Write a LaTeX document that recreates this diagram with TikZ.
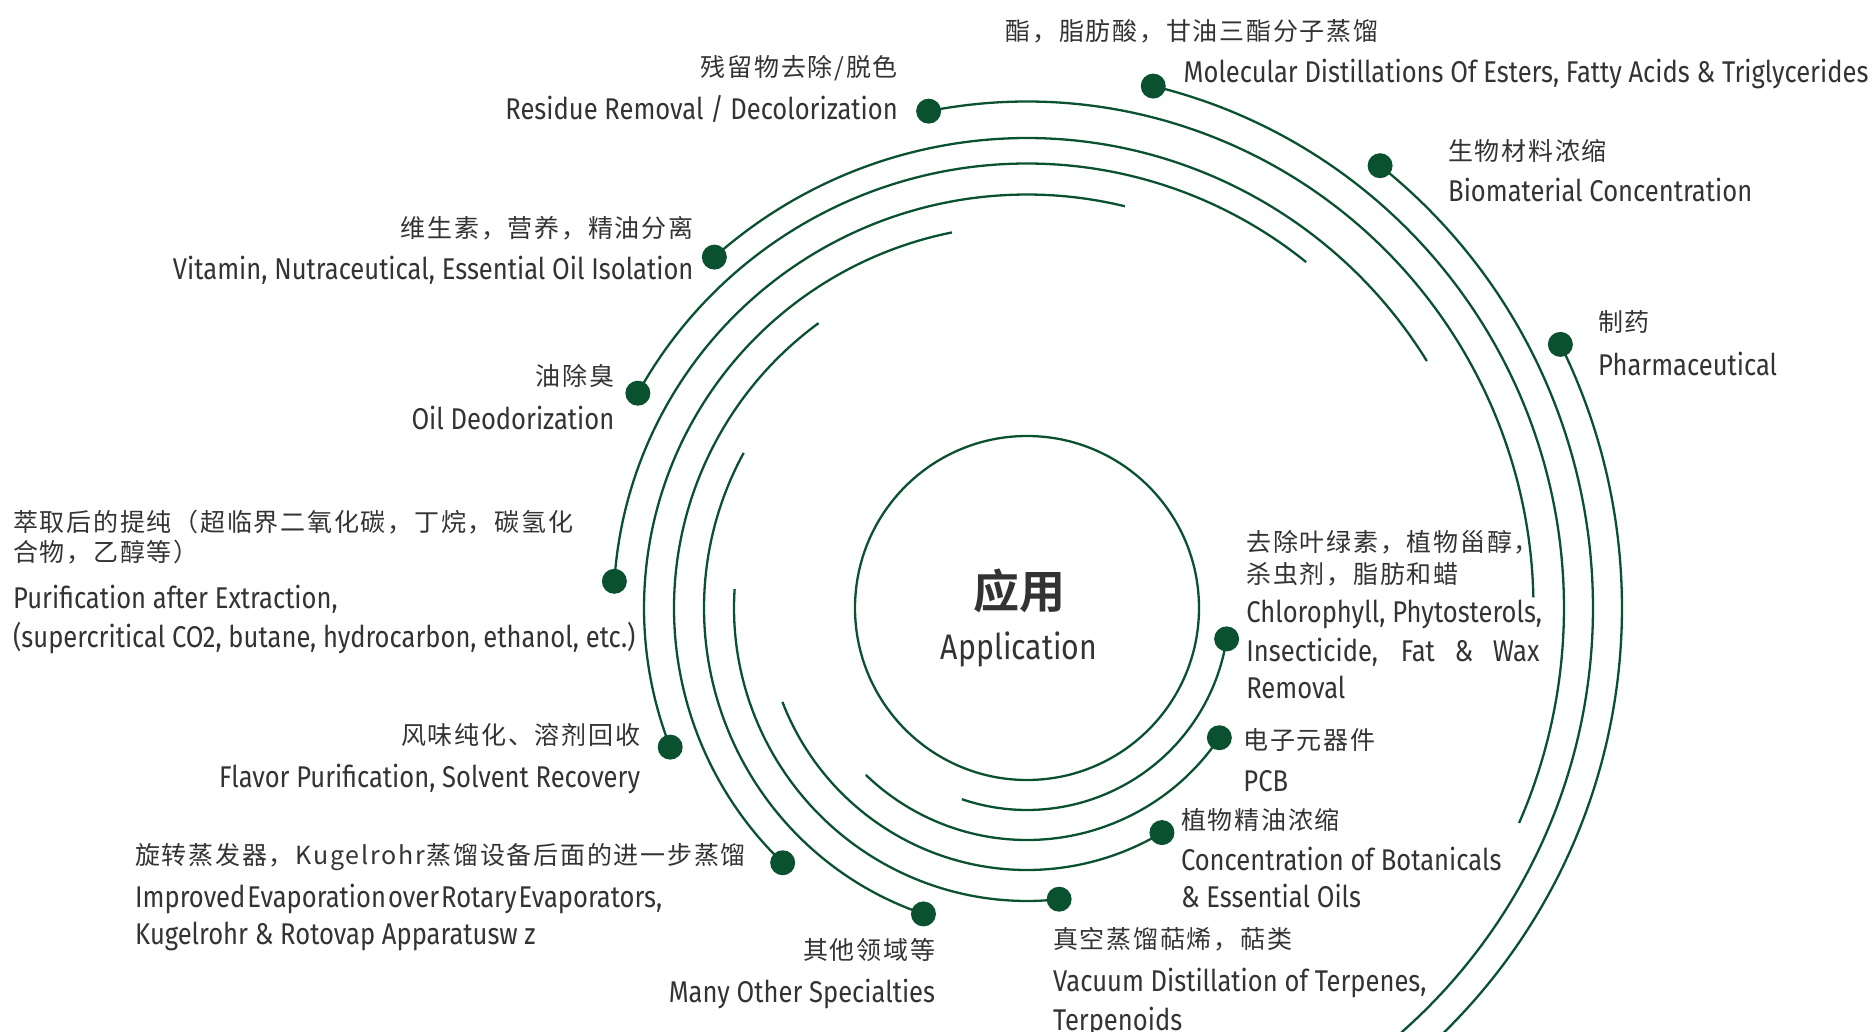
\documentclass[tikz,border=0pt]{standalone}
\usepackage{fontspec}
\setmainfont{Fira Sans}[FakeStretch=0.852]
\newfontfamily\cjk{Noto Sans CJK SC}[LetterSpace=7]
\newfontfamily\cjkb{Noto Sans CJK SC Bold}
\definecolor{grn}{HTML}{0A5130}
\definecolor{txt}{HTML}{333333}
\begin{document}
\begin{tikzpicture}[x=1pt,y=-1pt,
  arcline/.style={draw=grn, line width=2.3pt},
  dot/.style={circle, fill=grn, minimum size=25pt, inner sep=0pt},
  en/.style={font=\fontsize{30}{36}\selectfont, text=txt, inner sep=0pt, text height=21pt, text depth=0pt},
  zh/.style={font=\cjk\fontsize{25}{30}\selectfont, text=txt, inner sep=0pt, text height=20pt, text depth=1.5pt},
]
\useasboundingbox (0,0) rectangle (1872,1032);
\clip (0,0) rectangle (1872,1032);
\coordinate (c) at (1027,608);
\node[draw=grn, line width=2.3pt, circle, minimum size=344pt, inner sep=0pt] (core) at (c) {};
\node[font=\cjkb\fontsize{46}{50}\selectfont, text=txt, anchor=center] (hz) at (1019,591) {应用};
\node[font=\fontsize{35.5}{40}\selectfont, text=txt, anchor=base] (he) at (1019,659.5) {Application};

\foreach \n/\t/\r in {1/8.8/202, 2/34/232, 3/59/262, 4/83.7/293, 5/108.7/323,
  6/133.8/353, 7/158.7/383, 8/183.7/413.5, 9/208.9/444.5, 10/228.3/470,
  11/258.8/506.5, 12/283.6/537, 13/308.6/566, 14/333.7/595}{
  \node[dot] (d\n) at ([shift={(\t:\r)}]c) {};
  \draw[arcline] (d\n.center) arc[start angle=-\t, end angle=-\t-100, radius=\r pt];
}

% 14 Pharmaceutical
\node[zh, anchor=west] (z14) at (1598,322.5) {制药};
\node[en, anchor=west] (e14) at (1598,365) {Pharmaceutical};
% 13 Biomaterial
\node[zh, anchor=west] (z13) at (1448,150.8) {生物材料浓缩};
\node[en, anchor=west] (e13) at (1448,190.8) {Biomaterial Concentration};
% 12 Molecular
\node[zh, anchor=west] (z12) at (1005.5,30.8) {酯，脂肪酸，甘油三酯分子蒸馏};
\node[en, anchor=west] (e12) at (1183.5,71.7) {Molecular Distillations Of Esters, Fatty Acids \& Triglycerides};
% 11 Residue
\node[zh, anchor=east] (z11) at (898,67.5) {残留物去除/脱色};
\node[en, anchor=east] (e11) at (898,108.8) {Residue Removal / Decolorization};
% 10 Vitamin
\node[zh, anchor=east] (z10) at (693.6,228) {维生素，营养，精油分离};
\node[en, anchor=east] (e10) at (693.6,269.2) {Vitamin, Nutraceutical, Essential Oil Isolation};
% 9 Oil
\node[zh, anchor=east] (z9) at (614.5,376.7) {油除臭};
\node[en, anchor=east] (e9) at (614.5,419.2) {Oil Deodorization};
% 8 Purification
\node[zh, anchor=west] (z8) at (13,522) {萃取后的提纯（超临界二氧化碳，丁烷，碳氢化};
\node[zh, anchor=west] (z8b) at (13,552.6) {合物，乙醇等）};
\node[en, anchor=west] (e8) at (13,597.5) {Purification after Extraction,};
\node[en, anchor=west] (e8b) at (13,636.5) {(supercritical CO2, butane, hydrocarbon, ethanol, etc.)};
% 7 Flavor
\node[zh, anchor=east] (z7) at (640.3,735) {风味纯化、溶剂回收};
\node[en, anchor=east] (e7) at (640.3,777) {Flavor Purification, Solvent Recovery};
% 6 Rotary
\node[zh, anchor=west] (z6) at (135,855.5) {旋转蒸发器，Kugelrohr蒸馏设备后面的进一步蒸馏};
\node[en, anchor=west] (e6) at (135,897) {\spaceskip=1pt plus 30pt\makebox[527pt][s]{Improved Evaporation over Rotary Evaporators,}};
\node[en, anchor=west] (e6b) at (135,934.4) {Kugelrohr \& Rotovap Apparatusw z};
% 5 Other
\node[zh, anchor=east] (z5) at (935.3,950.5) {其他领域等};
\node[en, anchor=east] (e5) at (935.3,992) {Many Other Specialties};
% 4 Terpenes
\node[zh, anchor=west] (z4) at (1053,939.4) {真空蒸馏萜烯，萜类};
\node[en, anchor=west] (e4) at (1053,981) {Vacuum Distillation of Terpenes,};
\node[en, anchor=west] (e4b) at (1053,1019.5) {Terpenoids};
% 3 Botanicals
\node[zh, anchor=west] (z3) at (1180.8,820.6) {植物精油浓缩};
\node[en, anchor=west] (e3) at (1180.8,859.7) {Concentration of Botanicals};
\node[en, anchor=west] (e3b) at (1180.8,897) {\& Essential Oils};
% 2 PCB
\node[zh, anchor=west] (z2) at (1243.2,740.5) {电子元器件};
\node[en, anchor=west] (e2) at (1243.2,780.8) {PCB};
% 1 Chlorophyll
\node[zh, anchor=west] (z1) at (1246.2,542.4) {去除叶绿素，植物甾醇，};
\node[zh, anchor=west] (z1b) at (1246.2,574.7) {杀虫剂，脂肪和蜡};
\node[en, anchor=west] (e1) at (1246.2,611.6) {Chlorophyll, Phytosterols,};
\node[en, anchor=west] (e1b) at (1246.2,650.5) {\makebox[293pt][s]{Insecticide, Fat \& Wax}};
\node[en, anchor=west] (e1c) at (1246.2,687.9) {Removal};
\end{tikzpicture}
\end{document}
